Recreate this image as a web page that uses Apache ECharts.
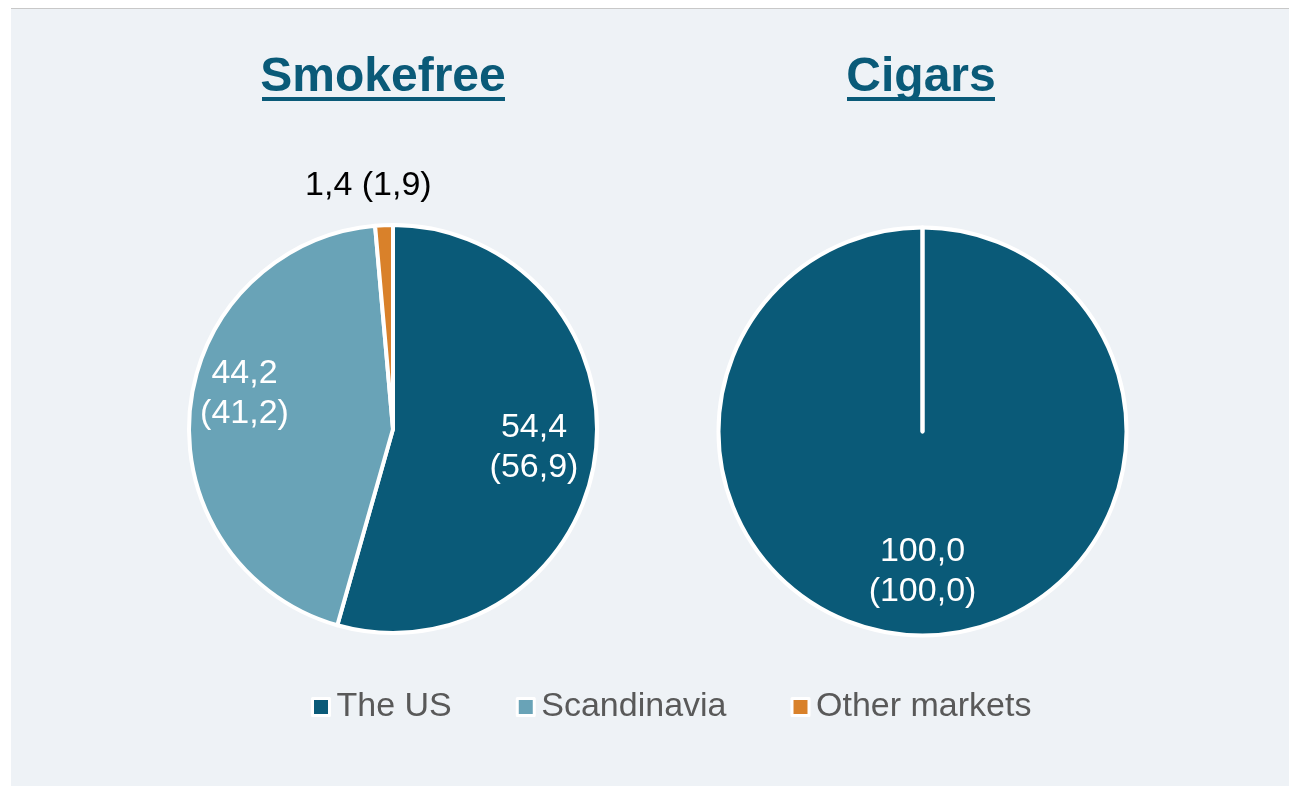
<!DOCTYPE html>
<html>
<head>
<meta charset="utf-8">
<script src="https://cdn.jsdelivr.net/npm/echarts@6/dist/echarts.min.js"></script>
<style>
  html, body { margin: 0; padding: 0; background: #ffffff; }
  #panel { position: absolute; left: 11px; top: 8px; right: 0; bottom: 0; background: #eef2f6; border-top: 1px solid #c8c8c8; }
  #chart { position: absolute; left: 0; top: 0; width: 1289px; height: 786px; }
</style>
</head>
<body>
<div id="panel"></div>
<div id="chart"></div>
<script>
// ---- data ----
const categories = ['The US', 'Scandinavia', 'Other markets'];
const chartTitles = ['Smokefree', 'Cigars'];
const smokefreeValues = [54.4, 44.2, 1.4];
const smokefreePrev = [56.9, 41.2, 1.9];
const cigarsValues = [100.0, 0, 0];
const cigarsPrev = [100.0, 0, 0];

// ---- styling / layout ----
const colors = ['#0a5a78', '#69a3b7', '#d9812a'];
const FONT = "'Liberation Sans', Arial, sans-serif";
const labelOffsetsSmokefree = [[37, 4], [-44, -25], [-20, -138]];
const labelColorsSmokefree = ['#ffffff', '#ffffff', '#000000'];
const labelInlineSmokefree = [false, false, true];
const labelOffsetsCigars = [[0, 35], [0, 0], [0, 0]];

function fmt(v) { return v.toFixed(1).replace('.', ','); }

function buildData(values, prev, offsets, labelColors, inline) {
  return values.map((v, i) => {
    const show = v > 0;
    return {
      name: categories[i],
      value: v,
      itemStyle: { color: colors[i] },
      label: {
        show: show,
        position: 'inside',
        offset: offsets[i],
        color: labelColors ? labelColors[i] : '#ffffff',
        formatter: (inline && inline[i]) ? (fmt(v) + ' (' + fmt(prev[i]) + ')') : (fmt(v) + '\n(' + fmt(prev[i]) + ')')
      }
    };
  });
}

const chart = echarts.init(document.getElementById('chart'), null, { renderer: 'canvas' });

const pieCommon = {
  type: 'pie',
  radius: 204,
  startAngle: 90,
  clockwise: true,
  avoidLabelOverlap: false,
  silent: true,
  emphasis: { disabled: true },
  labelLine: { show: false },
  itemStyle: { borderColor: '#ffffff', borderWidth: 4 },
  label: { fontFamily: FONT, fontSize: 34, lineHeight: 40, align: 'center' }
};

const option = {
  animation: false,
  textStyle: { fontFamily: FONT },
  title: [
    { text: chartTitles[0], left: 383, top: 54, textAlign: 'center', padding: 0,
      textStyle: { fontFamily: FONT, fontSize: 48, fontWeight: 'bold', color: '#0a5a78', lineHeight: 48 } },
    { text: chartTitles[1], left: 921, top: 54, textAlign: 'center', padding: 0,
      textStyle: { fontFamily: FONT, fontSize: 48, fontWeight: 'bold', color: '#0a5a78', lineHeight: 48 } }
  ],
  graphic: [
    { type: 'rect', shape: { x: 262, y: 97, width: 243, height: 4 }, style: { fill: '#0a5a78' }, silent: true },
    { type: 'rect', shape: { x: 847, y: 97, width: 148, height: 4 }, style: { fill: '#0a5a78' }, silent: true }
  ],
  legend: {
    data: categories,
    left: 311,
    top: 690,
    padding: 0,
    itemGap: 64,
    itemWidth: 17,
    itemHeight: 17,
    icon: 'rect',
    selectedMode: false,
    itemStyle: { borderColor: '#ffffff', borderWidth: 3 },
    textStyle: { fontFamily: FONT, fontSize: 34, color: '#595959', padding: [0, 0, 0, 2] }
  },
  series: [
    Object.assign({}, pieCommon, {
      name: chartTitles[0],
      center: [393, 429],
      data: buildData(smokefreeValues, smokefreePrev, labelOffsetsSmokefree, labelColorsSmokefree, labelInlineSmokefree)
    }),
    Object.assign({}, pieCommon, {
      name: chartTitles[1],
      center: [922.5, 431.5],
      data: buildData(cigarsValues, cigarsPrev, labelOffsetsCigars, null, null)
    })
  ]
};
chart.setOption(option);
</script>
</body>
</html>
